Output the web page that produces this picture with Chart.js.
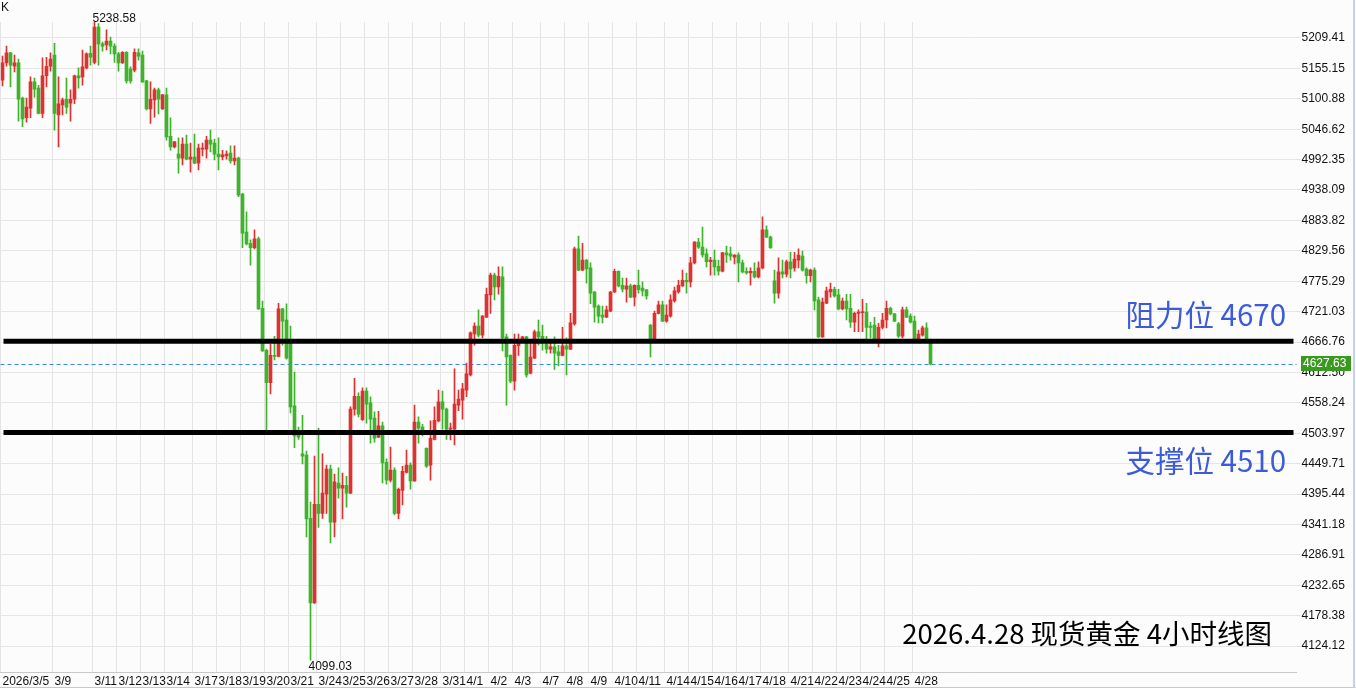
<!DOCTYPE html>
<html><head><meta charset="utf-8">
<script src="https://cdn.jsdelivr.net/npm/chart.js@4.4.1/dist/chart.umd.min.js"></script>
<style>html,body{margin:0;padding:0;background:#fcfcfc;overflow:hidden}#wrap{width:1356px;height:688px;position:relative}canvas{display:block}</style>
</head><body><div id="wrap"><canvas id="c" width="1356" height="688"></canvas></div>
<script>
// ---- data ----
const dayLabels = ['2026/3/5','3/9','3/11','3/12','3/13','3/14','3/17','3/18','3/19','3/20','3/21','3/24','3/25','3/26','3/27','3/28','3/31','4/1','4/2','4/3','4/7','4/8','4/9','4/10','4/11','4/14','4/15','4/16','4/17','4/18','4/21','4/22','4/23','4/24','4/25','4/28'];
const dayBars = [13,10,6,6,6,7,6,6,6,6,7,6,6,6,6,7,6,6,6,7,6,6,6,6,7,6,6,6,6,7,6,6,6,6,7,5];
const opens = [5134,5165,5183,5159,5165,5102,5067,5084,5131,5120,5075,5142,5159,5179,5072,5090,5100,5093,5100,5142,5140,5156,5182,5166,5229,5199,5197,5204,5195,5181,5165,5184,5154,5152,5183,5179,5133,5083,5099,5117,5083,5108,5034,5015,5002,4995,5020,4993,4997,4986,5011,5011,5027,5022,5002,4997,4999,5004,4990,4995,4931,4863,4843,4835,4851,4727,4652,4594,4643,4641,4726,4706,4665,4553,4502,4467,4465,4352,4201,4377,4361,4395,4440,4345,4415,4406,4411,4397,4547,4570,4528,4579,4558,4531,4497,4517,4452,4420,4438,4361,4402,4434,4447,4419,4524,4515,4477,4447,4493,4526,4560,4547,4511,4511,4554,4563,4581,4608,4681,4695,4679,4711,4751,4786,4765,4783,4676,4643,4597,4660,4672,4676,4611,4638,4685,4677,4663,4654,4658,4649,4643,4660,4654,4699,4833,4795,4813,4799,4756,4731,4715,4711,4722,4756,4793,4768,4761,4767,4747,4768,4763,4760,4697,4670,4718,4733,4704,4713,4740,4756,4767,4777,4774,4808,4845,4836,4824,4810,4813,4802,4793,4826,4824,4818,4822,4808,4793,4790,4793,4783,4799,4867,4854,4776,4754,4792,4788,4810,4799,4813,4820,4797,4785,4795,4742,4676,4736,4756,4761,4751,4726,4740,4727,4702,4718,4719,4720,4695,4697,4670,4693,4706,4727,4717,4699,4677,4724,4713,4704,4672,4679,4692,4670];
const highs = [5177,5195,5184,5179,5172,5104,5102,5140,5138,5125,5174,5175,5183,5200,5140,5102,5138,5117,5143,5156,5188,5183,5195,5238.58,5235,5202,5224,5211,5199,5184,5185,5185,5158,5190,5190,5186,5134,5131,5120,5120,5109,5120,5067,5025,5031,5031,5036,5022,5038,5020,5022,5034,5045,5029,5031,5009,5008,5017,5017,4997,4932,4899,4849,4867,4854,4740,4654,4663,4677,4736,4727,4735,4695,4613,4515,4536,4472,4381,4463,4513,4467,4447,4447,4431,4442,4433,4427,4551,4602,4576,4585,4585,4569,4542,4543,4524,4458,4479,4442,4406,4445,4474,4451,4554,4533,4520,4478,4526,4551,4581,4579,4549,4522,4619,4581,4593,4629,4685,4701,4724,4714,4763,4790,4790,4801,4801,4681,4644,4681,4681,4677,4677,4667,4688,4706,4697,4677,4667,4676,4661,4693,4674,4718,4836,4856,4843,4814,4808,4757,4733,4731,4731,4757,4797,4794,4781,4781,4770,4769,4795,4774,4761,4698,4722,4740,4740,4733,4751,4765,4777,4795,4790,4818,4846,4852,4872,4833,4818,4831,4813,4827,4838,4836,4823,4826,4813,4799,4799,4808,4810,4890,4874,4856,4795,4817,4813,4813,4827,4827,4833,4829,4799,4797,4799,4747,4745,4765,4772,4765,4761,4745,4752,4752,4720,4724,4743,4736,4702,4711,4700,4718,4740,4729,4718,4702,4729,4729,4717,4713,4688,4695,4701,4672];
const lows = [5124,5159,5122,5149,5061,5051,5059,5067,5104,5074,5067,5122,5150,5045,5015,5072,5075,5061,5092,5120,5125,5154,5161,5163,5161,5186,5188,5181,5166,5150,5164,5129,5129,5149,5170,5130,5081,5057,5068,5074,5082,5027,5009,5013,4968,4983,4992,4970,4985,4974,4999,4995,5006,4992,4974,4992,4993,4986,4983,4926,4835,4840,4804,4833,4725,4650,4510,4574,4635,4640,4661,4636,4540,4478,4493,4449,4319,4099.03,4200,4336,4352,4361,4308,4319,4388,4351,4372,4396,4536,4533,4527,4522,4486,4488,4496,4415,4413,4417,4358,4351,4376,4433,4404,4418,4486,4499,4443,4420,4492,4524,4511,4493,4492,4483,4544,4529,4569,4606,4661,4676,4674,4710,4718,4742,4752,4651,4554,4594,4581,4643,4670,4604,4610,4637,4661,4652,4647,4647,4618,4624,4642,4608,4653,4697,4794,4794,4772,4735,4702,4701,4701,4710,4721,4755,4765,4756,4738,4746,4731,4754,4749,4743,4640,4669,4717,4703,4702,4711,4738,4754,4766,4754,4765,4806,4834,4818,4801,4786,4786,4786,4792,4809,4813,4806,4774,4790,4788,4768,4781,4781,4797,4853,4834,4736,4745,4781,4783,4781,4793,4799,4793,4772,4774,4724,4675,4675,4735,4747,4747,4724,4724,4706,4693,4685,4685,4685,4670,4674,4666,4658,4690,4692,4715,4703,4675,4674,4710,4701,4670,4670,4677,4670,4626];
const closes = [5165,5183,5161,5165,5100,5065,5086,5131,5118,5075,5142,5159,5172,5075,5092,5099,5086,5100,5142,5138,5158,5181,5175,5229,5199,5195,5204,5195,5181,5165,5184,5133,5133,5184,5177,5131,5083,5100,5117,5100,5108,5033,5015,5024,4995,5020,4993,4997,4986,5013,5013,5027,5020,5002,4997,5001,5002,4990,4995,4929,4861,4842,4835,4851,4726,4651,4594,4643,4641,4726,4704,4638,4551,4499,4497,4463,4351,4201,4377,4361,4397,4440,4345,4417,4406,4411,4397,4547,4570,4538,4579,4556,4529,4495,4517,4451,4420,4438,4361,4404,4436,4447,4419,4524,4513,4510,4445,4495,4527,4560,4547,4511,4513,4556,4565,4583,4610,4683,4695,4679,4713,4752,4786,4765,4784,4674,4640,4597,4661,4670,4676,4608,4640,4685,4676,4668,4654,4658,4647,4643,4660,4654,4701,4833,4795,4813,4797,4754,4729,4713,4711,4724,4756,4793,4767,4761,4767,4747,4768,4760,4758,4749,4670,4718,4733,4704,4715,4742,4758,4768,4777,4774,4808,4845,4836,4822,4810,4813,4801,4793,4826,4822,4820,4822,4808,4792,4790,4793,4783,4799,4867,4854,4835,4754,4792,4788,4810,4797,4815,4822,4795,4785,4795,4740,4676,4738,4758,4761,4749,4726,4740,4726,4702,4718,4720,4721,4693,4693,4667,4693,4706,4727,4717,4704,4677,4724,4711,4702,4672,4681,4692,4672,4627.63];
const yTicks = [5209.41,5155.15,5100.88,5046.62,4992.35,4938.09,4883.82,4829.56,4775.29,4721.03,4666.76,4612.50,4558.24,4503.97,4449.71,4395.44,4341.18,4286.91,4232.65,4178.38,4124.12];
const levels = [4668, 4505];
const levelTexts = ['阻力位 4670', '支撑位 4510'];
const lastPrice = 4627.63;
const highText = '5238.58';
const lowText = '4099.03';
const titleText = '2026.4.28 现货黄金 4小时线图';
const cornerText = 'K';
const totalSlots = 324;

// ---- build ----
const RED = '#e03131', GREEN = '#3db42a';
const slotLabels = [];
const tickText = [];
const dayStart = new Set();
dayLabels.forEach((d, k) => {
  dayStart.add(slotLabels.length);
  for (let j = 0; j < dayBars[k]; j++) { slotLabels.push(d); tickText.push(j === 0 ? d : ''); }
});
while (slotLabels.length < totalSlots) { slotLabels.push(''); tickText.push(''); }
const colors = opens.map((o, i) => closes[i] >= o ? RED : GREEN);
let hiIdx = 0, loIdx = 0;
highs.forEach((h, i) => { if (h > highs[hiIdx]) hiIdx = i; });
lows.forEach((l, i) => { if (l < lows[loIdx]) loIdx = i; });

const FONT = "'Liberation Sans', Arial, sans-serif";

const overlay = {
  id: 'overlay',
  beforeDraw(chart) {
    const c = chart.ctx;
    c.save(); c.fillStyle = '#fcfcfc'; c.fillRect(0, 0, chart.width, chart.height); c.restore();
  },
  beforeDatasetsDraw(chart) {
    const c = chart.ctx, a = chart.chartArea, y = chart.scales.y;
    c.save();
    c.strokeStyle = '#3d86f2'; c.lineWidth = 1; c.setLineDash([4, 3]);
    const yy = Math.round(y.getPixelForValue(lastPrice)) + 0.5;
    c.beginPath(); c.moveTo(a.left, yy); c.lineTo(a.right, yy); c.stroke();
    c.restore();
  },
  afterDatasetsDraw(chart) {
    const c = chart.ctx, a = chart.chartArea, y = chart.scales.y;
    c.save();
    c.strokeStyle = '#000'; c.lineWidth = 5;
    levels.forEach(v => {
      const yy = y.getPixelForValue(v);
      c.beginPath(); c.moveTo(a.left + 3, yy); c.lineTo(a.right - 3, yy); c.stroke();
    });
    c.restore();
  },
  afterDraw(chart) {
    const c = chart.ctx, a = chart.chartArea, x = chart.scales.x, y = chart.scales.y;
    c.save();
    // last price tag
    const yy = Math.round(y.getPixelForValue(lastPrice));
    c.fillStyle = '#3a9a1f';
    c.fillRect(1301, yy - 8, 50, 15);
    c.fillStyle = '#fff'; c.font = '12px ' + FONT; c.textBaseline = 'middle'; c.textAlign = 'left';
    c.fillText(lastPrice.toFixed(2), 1303, yy);
    // axis frame lines
    c.fillStyle = '#c8c8c8';
    c.fillRect(0, 687, chart.width, 1);
    c.fillStyle = '#c3d2ee';
    c.fillRect(1353, 0, 2, chart.height);
    // texts
    c.fillStyle = '#111'; c.textBaseline = 'alphabetic'; c.font = '12px ' + FONT;
    c.fillText(cornerText, 1, 11);
    c.fillText(highText, x.getPixelForValue(hiIdx) - 2, 22);
    c.fillText(lowText, x.getPixelForValue(loIdx) - 2, 670);
    c.textAlign = 'right';
    c.fillStyle = '#3d5bd9';
    c.font = "29.5px 'Noto Sans CJK SC', sans-serif";
    c.fillText(levelTexts[0], 1286, 326);
    c.fillText(levelTexts[1], 1286, 472);
    c.fillStyle = '#000';
    c.font = "27.5px 'Noto Sans CJK SC', sans-serif";
    c.fillText(titleText, 1272, 644);
    c.restore();
  }
};

new Chart(document.getElementById('c'), {
  type: 'bar',
  data: {
    labels: slotLabels,
    datasets: [
      {
        label: 'body',
        data: opens.map((o, i) => [o, closes[i]]),
        backgroundColor: colors,
        barThickness: 3,
        minBarLength: 1,
        grouped: false,
        borderWidth: 0
      },
      {
        label: 'wick',
        data: lows.map((l, i) => [l, highs[i]]),
        backgroundColor: colors,
        barThickness: 1,
        minBarLength: 1,
        grouped: false,
        borderWidth: 0
      }
    ]
  },
  options: {
    responsive: false,
    animation: false,
    devicePixelRatio: 1,
    layout: { padding: { top: 22, left: 0.5, right: 0, bottom: 0 } },
    plugins: { legend: { display: false }, tooltip: { enabled: false } },
    scales: {
      x: {
        position: 'bottom',
        offset: true,
        afterFit(s) { s.height = 16; },
        grid: {
          offset: true,
          drawTicks: false,
          lineWidth: 1,
          color: (ctx) => dayStart.has(ctx.index) ? '#e4e4e4' : 'rgba(0,0,0,0)'
        },
        border: { display: true, color: '#c8c8c8' },
        ticks: {
          autoSkip: false,
          maxRotation: 0,
          minRotation: 0,
          align: 'start',
          padding: 2,
          color: '#111',
          font: { family: FONT, size: 12 },
          callback: (v, i) => tickText[i]
        }
      },
      y: {
        position: 'right',
        min: 4077.71,
        max: 5237.97,
        afterFit(s) { s.width = 59.5; },
        afterBuildTicks(s) { s.ticks = yTicks.map(v => ({ value: v })); },
        grid: { color: '#e6e6e6', lineWidth: 1, drawTicks: true, tickLength: 4, tickColor: '#e0e0e0' },
        border: { display: false },
        ticks: {
          autoSkip: false,
          padding: 1,
          color: '#111',
          font: { family: FONT, size: 12 },
          callback: (v) => Number(v).toFixed(2)
        }
      }
    }
  },
  plugins: [overlay]
});
</script>
</body></html>
